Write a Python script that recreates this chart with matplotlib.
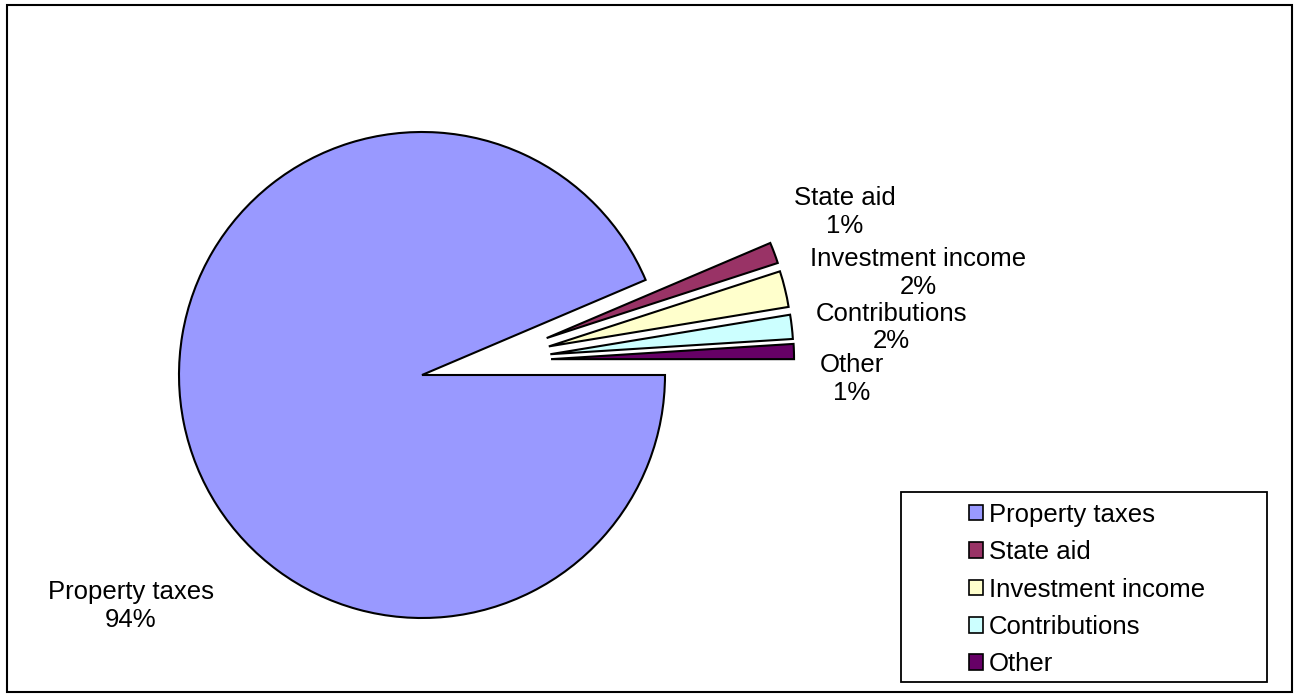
import matplotlib
matplotlib.use("Agg")
import matplotlib.pyplot as plt
from matplotlib.patches import Rectangle, Patch
import numpy as np

categories = ["Property taxes", "State aid", "Investment income", "Contributions", "Other"]
values = [93.6, 1.4, 2.4, 1.6, 1.0]
colors = ["#9999FF", "#993366", "#FFFFCC", "#CCFFFF", "#660066"]

plt.rcParams['font.family'] = ['Liberation Sans', 'DejaVu Sans']
FS = 18.5

fig = plt.figure(figsize=(12.99, 6.98), dpi=100)
ax = fig.add_axes([0, 0, 1, 1])

wedges, _ = ax.pie(values, colors=colors, startangle=0,
                   counterclock=False, radius=1.0,
                   wedgeprops=dict(edgecolor="black", linewidth=1.5))

# explode the small slices (Excel-like offset directions)
explode_dist = [0, 0.535, 0.535, 0.535, 0.535]
explode_dir = [0, 16.5, 12.7, 9.2, 7.0]
for w, d, a in zip(wedges, explode_dist, explode_dir):
    if d:
        w.set_center((d * np.cos(np.deg2rad(a)), d * np.sin(np.deg2rad(a))))

# axis scaling: center at pixel (422,375), radius 243 px
W, H, cx, cy, R = 1299, 698, 422, 375, 243
ax.set_aspect('auto')
ax.set_xlim(-cx / R, (W - cx) / R)
ax.set_ylim(-(H - cy) / R, cy / R)
ax.axis('off')

label_r = [1.53, 1.865, 2.085, 1.94, 1.77]
label_dang = [26.9, 0.6, -2.1, -0.7, -2.3]
total = sum(values)
for w, name, v, r, da in zip(wedges, categories, values, label_r, label_dang):
    mid = np.deg2rad((w.theta1 + w.theta2) / 2 + da)
    ax.text(r * np.cos(mid), r * np.sin(mid), f"{name}\n{v / total * 100:.0f}%",
            ha='center', va='center', fontsize=FS, linespacing=1.2)

# legend frame
fig.patches.append(Rectangle((901 / W, 1 - 682 / H), (1267 - 901) / W, (682 - 492) / H,
                             transform=fig.transFigure, fill=False, edgecolor='black',
                             linewidth=1.3))
handles = [Patch(facecolor=c, edgecolor='black', linewidth=1.2) for c in colors]
leg = fig.legend(handles, categories, loc='upper left',
                 bbox_to_anchor=(956 / W, 1 - 490 / H), frameon=False,
                 fontsize=FS, handlelength=0.55, handleheight=0.55,
                 handletextpad=0.22, labelspacing=0.52, borderpad=0.0)

# outer border
fig.patches.append(Rectangle((7 / W, 1 - 692 / H), (1292 - 7) / W, (692 - 5) / H,
                             transform=fig.transFigure, fill=False, edgecolor='black',
                             linewidth=1.5))

fig.savefig("out.png", dpi=100, facecolor='white')
